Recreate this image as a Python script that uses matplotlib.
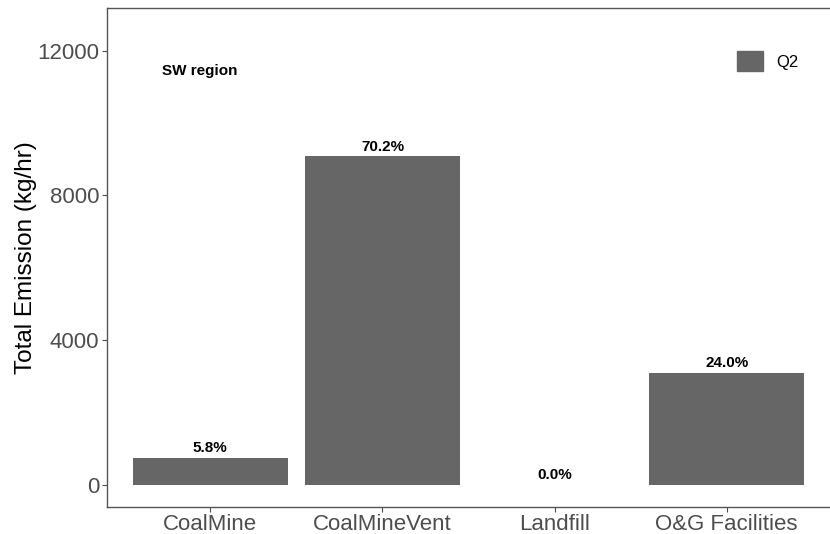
import matplotlib
matplotlib.use("Agg")
from matplotlib import pyplot as plt
from matplotlib.patches import Patch

plt.rcParams['font.family'] = ['Liberation Sans', 'DejaVu Sans']

sources = ['CoalMine', 'CoalMineVent', 'Landfill', 'O&G Facilities']
emission = [750, 9080, 2, 3105]
yticks = [0, 4000, 8000, 12000]
region = 'SW region'
quarter = 'Q2'

total = sum(emission)
shares = [100.0 * e / total for e in emission]

fig = plt.figure(figsize=(8.3, 5.34), dpi=100)
ax = fig.add_axes([0.129, 0.0506, 0.871, 0.9344])

pos = list(range(1, len(sources) + 1))
ax.bar(pos, emission, width=0.9, color='#666666')

# percentage share above each bar
for x, e, s in zip(pos, emission, shares):
    ax.annotate('%.1f%%' % s, xy=(x, e), xytext=(0, 2),
                textcoords='offset points', ha='center', va='bottom',
                fontsize=11, fontweight='bold', color='black')

ax.text(0.72, 11450, region, fontsize=11, fontweight='bold',
        color='black', va='center', ha='left')

ax.legend(handles=[Patch(color='#666666', label=quarter)],
          loc='upper left', bbox_to_anchor=(0.862, 0.928), frameon=False,
          fontsize=12, handlelength=1.55, handleheight=1.55,
          handletextpad=0.8, borderaxespad=0.0)

ax.set_xlim(0.4, 4.6)
ax.set_ylim(-610, 13180)
ax.set_xticks(pos)
ax.set_xticklabels(sources)
ax.set_yticks(yticks)
ax.tick_params(axis='both', labelsize=16, labelcolor='#4d4d4d',
               color='#4d4d4d', length=3.5, width=0.8)
ax.tick_params(axis='x', pad=1.5)
ax.tick_params(axis='y', pad=2)
ax.set_ylabel('Total Emission (kg/hr)', fontsize=17.5, color='black',
              labelpad=0.5)

for side in ['left', 'bottom', 'top']:
    ax.spines[side].set_color('#555555')
    ax.spines[side].set_linewidth(1.0)
ax.spines['right'].set_visible(False)

fig.savefig('out.png', dpi=100)
